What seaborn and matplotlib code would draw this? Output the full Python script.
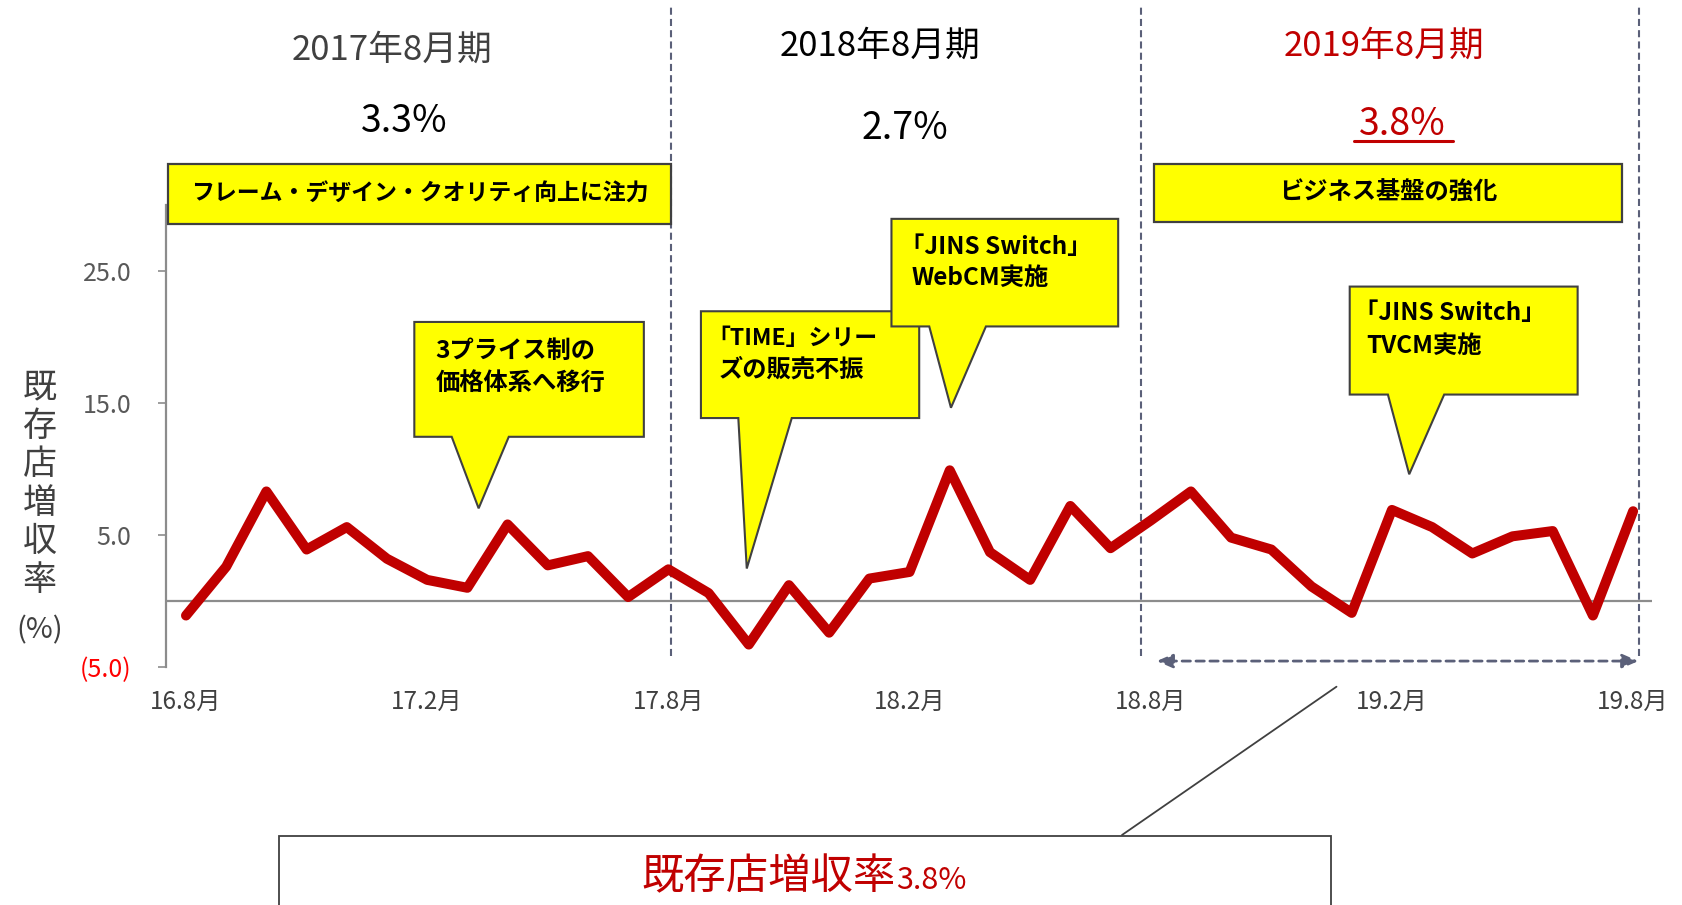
import numpy as np
import pandas as pd
import matplotlib
matplotlib.use("Agg")
import matplotlib.pyplot as plt
import seaborn as sns
from matplotlib.transforms import Affine2D
from matplotlib.patches import Polygon, Rectangle
from matplotlib.lines import Line2D

# ---------------- data ----------------
growth = [-1.1, 2.6, 8.3, 3.9, 5.6, 3.2, 1.6, 1.0, 5.8, 2.7, 3.4, 0.3,
          2.4, 0.6, -3.3, 1.2, -2.4, 1.7, 2.2, 9.9, 3.7, 1.6, 7.2, 4.0,
          6.1, 8.3, 4.8, 3.9, 1.1, -0.9, 6.9, 5.6, 3.6, 4.9, 5.3, -1.1, 6.8]
tick_labels = ["16.8月", "17.2月", "17.8月", "18.2月", "18.8月", "19.2月", "19.8月"]
ytick_values = [-5, 5, 15, 25]
ytick_labels = ["(5.0)", "5.0", "15.0", "25.0"]
period_labels = ["2017年8月期", "2018年8月期", "2019年8月期"]
period_growth = ["3.3%", "2.7%", "3.8%"]
theme_labels = ["フレーム・デザイン・クオリティ向上に注力", "ビジネス基盤の強化"]
callout_texts = ["3プライス制の\n価格体系へ移行",
                 "「TIME」シリー\nズの販売不振",
                 "「JINS Switch」\nWebCM実施",
                 "「JINS Switch」\nTVCM実施"]
ylabel_text = "既存店増収率"
summary_label = "既存店増収率"
summary_value = "3.8%"

W, H = 1683, 905
RED = "#c00000"
GRAY = "#8c8c8c"
DASH = "#5b6079"

sns.set_theme(style="white")
plt.rcParams['font.family'] = ['Noto Sans CJK JP', 'DejaVu Sans']

fig = plt.figure(figsize=(W / 100, H / 100), dpi=100)
ax = fig.add_axes([166 / W, 1 - 667 / H, (1652 - 166) / W, (667 - 205) / H])
ax.patch.set_alpha(0)
px = Affine2D().scale(1 / W, -1 / H).translate(0, 1) + fig.transFigure

df = pd.DataFrame({"month": np.arange(len(growth)), "growth": growth})
sns.lineplot(data=df, x="month", y="growth", color=RED, lw=7.2, ax=ax, zorder=4)
for ln in ax.lines:
    ln.set_solid_capstyle('round')
    ln.set_solid_joinstyle('round')

ax.set_xlim(-0.4975, 36.47)
ax.set_ylim(-5, 30)
ax.axhline(0, color=GRAY, lw=1.6, zorder=2)
for s in ['top', 'right', 'bottom']:
    ax.spines[s].set_visible(False)
ax.spines['left'].set_color(GRAY)
ax.spines['left'].set_linewidth(1.6)
ax.set_xticks(list(range(0, len(growth), 6)), tick_labels)
ax.set_yticks(ytick_values, ytick_labels)
ax.tick_params(axis='x', bottom=False, length=0, pad=16, labelsize=17.5, labelcolor='#404040')
ax.tick_params(axis='y', left=True, length=6, width=1.2, color=GRAY, pad=19,
               labelsize=18, labelcolor='#595959')
ax.get_yticklabels()[0].set_color('#ff0000')
ax.set_xlabel('')
ax.set_ylabel('')

# period separators
for xv in [12.06, 23.75, 36.15]:
    ax.axvline(xv, ymin=(-4.17 + 5) / 35, ymax=(45 + 5) / 35, clip_on=False,
               color=DASH, lw=1.5, ls=(0, (3.4, 2.0)), zorder=3)

# double arrow for FY2019
ax.annotate("", xy=(24.15, -4.55), xytext=(36.13, -4.55), annotation_clip=False,
            arrowprops=dict(arrowstyle='<|-|>,head_length=0.8,head_width=0.35',
                            color=DASH, lw=2, ls=(0, (3, 2)), shrinkA=0, shrinkB=0))

# callouts: (x0, x1, ybot, ytop, base_l, base_r, tip_x, tip_y, text_x, line_y1, line_y2)
callout_geo = [
    (5.68, 11.39, 12.44, 21.14, 6.61, 8.03, 7.28, 7.02, 6.21, 18.94, 16.5),
    (12.81, 18.24, 13.86, 21.95, 13.74, 15.07, 13.95, 2.46, 13.26, 19.85, 17.5),
    (17.55, 23.19, 20.8, 28.95, 18.49, 19.9, 19.03, 14.64, 18.06, 26.8, 24.47),
    (28.95, 34.62, 15.64, 23.82, 29.9, 31.3, 30.43, 9.6, 29.36, 21.8, 19.35),
]
for k, (g, txt) in enumerate(zip(callout_geo, callout_texts)):
    x0, x1, yb, yt, bl, br, tx, ty, xt, l1, l2 = g
    poly = Polygon([(x0, yt), (x1, yt), (x1, yb), (br, yb), (tx, ty), (bl, yb), (x0, yb)],
                   closed=True, facecolor="#ffff00", edgecolor="#404040", lw=1.5,
                   clip_on=False, zorder=6 + k)
    ax.add_patch(poly)
    for line, yy in zip(txt.split("\n"), [l1, l2]):
        xx = xt - 0.3 if line.startswith("「") else xt
        fs = 16.5 if "TIME" in line else 17.5
        ax.text(xx, yy, line, ha='left', va='center', fontsize=fs, fontweight='bold',
                color='black', zorder=6 + k, clip_on=False)

# headline yellow theme boxes
for (xa, xb, ya, yb2), lab, fs in zip([(168.5, 670.6, 164, 224), (1154.5, 1622.3, 164, 222)],
                                     theme_labels, [16.5, 17.5]):
    fig.patches.append(Rectangle((xa, ya), xb - xa, yb2 - ya, transform=px,
                                 facecolor="#ffff00", edgecolor="#404040", lw=1.6, zorder=5))
    fig.text((xa + xb) / 2, (ya + yb2) / 2, lab, transform=px, ha='center', va='center',
             fontsize=fs, fontweight='bold', color='black', zorder=6)

# period headers
hdr_colors = ['#404040', 'black', RED]
hdr_pos = [(391.6, 50), (880, 46), (1384, 46)]
pct_pos = [(404.5, 122), (904.5, 128.5), (1402, 124.5)]
pct_colors = ['black', 'black', RED]
for lab, c, (x, y) in zip(period_labels, hdr_colors, hdr_pos):
    fig.text(x, y, lab, transform=px, ha='center', va='center', fontsize=25, color=c)
for lab, c, (x, y) in zip(period_growth, pct_colors, pct_pos):
    fig.text(x, y, lab, transform=px, ha='center', va='center', fontsize=27, color=c)
fig.lines.append(Line2D([1354, 1453], [141.5, 141.5], transform=px, color=RED, lw=2.2))

# y label (vertical stacked)
fig.text(39.7, 484, "\n".join(ylabel_text), transform=px, ha='center', va='center',
         fontsize=24.5, color='#404040', linespacing=1.13)
fig.text(39.7, 630, "(%)", transform=px, ha='center', va='center', fontsize=21, color='#404040')

# summary box + connector
fig.patches.append(Rectangle((279, 836), 1331 - 279, 100, transform=px, facecolor='white',
                             edgecolor='#404040', lw=1.3, zorder=5))
fig.lines.append(Line2D([1336.5, 1122], [686.7, 835], transform=px, color='#404040', lw=1.3))
fig.text(896, 889, summary_label, transform=px, ha='right', va='baseline', fontsize=30.5, color=RED, zorder=6)
fig.text(896, 889, summary_value, transform=px, ha='left', va='baseline', fontsize=22, color=RED, zorder=6)

fig.savefig("out.png", dpi=100)
